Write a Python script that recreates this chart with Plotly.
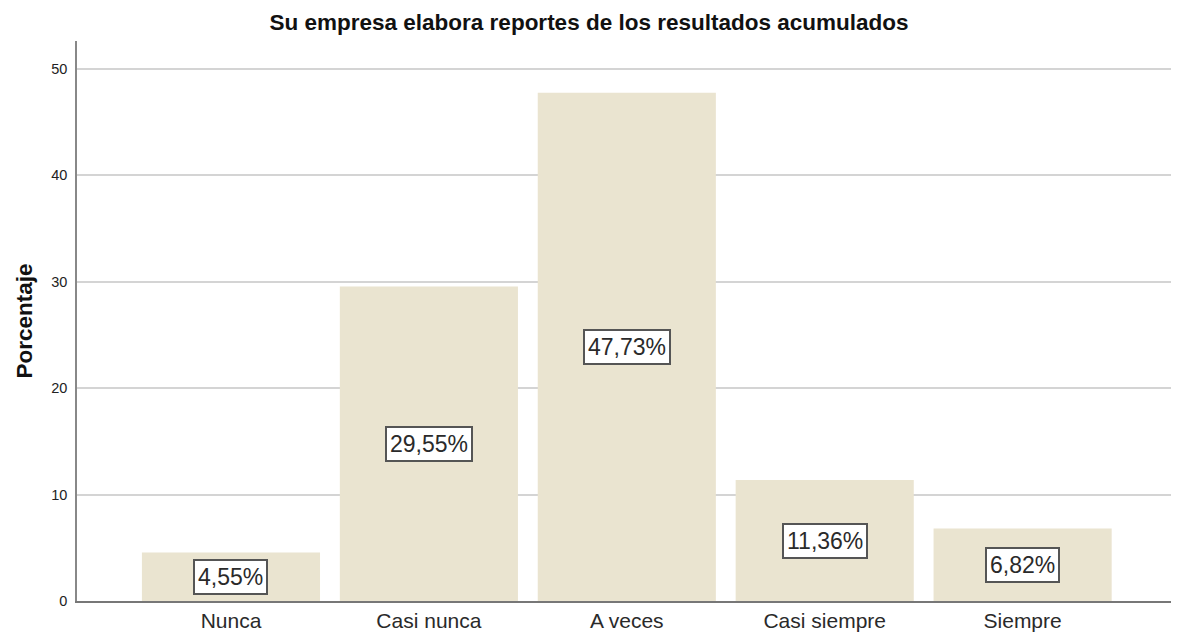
import plotly.graph_objects as go

categories = ["Nunca", "Casi nunca", "A veces", "Casi siempre", "Siempre"]
values = [4.55, 29.55, 47.73, 11.36, 6.82]
labels = ["4,55%", "29,55%", "47,73%", "11,36%", "6,82%"]
y_ticks = [0, 10, 20, 30, 40, 50]

FONT = "Liberation Sans, Arial, sans-serif"
xs = list(range(len(categories)))

fig = go.Figure()
fig.add_trace(go.Bar(
    x=xs, y=values, width=0.9,
    marker=dict(color="#EAE4D0", line=dict(width=0)),
    hoverinfo="skip",
))

for x, v, t in zip(xs, values, labels):
    fig.add_annotation(
        x=x, y=v / 2, text=t, showarrow=False,
        font=dict(family=FONT, size=23, color="#2a2a2a"),
        bgcolor="white", bordercolor="#555555", borderwidth=2, borderpad=3,
    )

# page body has an 8px default margin, so margins are compensated
fig.update_layout(
    width=1179, height=635,
    margin=dict(l=69, r=11, t=33, b=42, autoexpand=False),
    paper_bgcolor="white", plot_bgcolor="white",
    showlegend=False,
    title=dict(
        text="<b>Su empresa elabora reportes de los resultados acumulados</b>",
        x=0.4928, xanchor="center", y=0.978, yanchor="middle",
        font=dict(family=FONT, size=22.5, color="#111111"),
    ),
    bargap=0.1,
)

fig.update_xaxes(
    range=[-0.778, 4.775], automargin=False,
    tickmode="array", tickvals=xs, ticktext=categories,
    tickfont=dict(family=FONT, size=21, color="#2a2a2a"),
    showgrid=False, zeroline=False,
    showline=True, linecolor="#777777", linewidth=1.5,
    layer="below traces",
    ticks="", ticklen=0, ticklabelstandoff=0,
)
fig.update_yaxes(
    range=[0, 52.6], automargin=False,
    tickmode="array", tickvals=y_ticks,
    tickfont=dict(family=FONT, size=14.5, color="#222222"),
    showgrid=True, gridcolor="#D4D4D4", gridwidth=1.5,
    zeroline=False,
    showline=True, linecolor="#888888", linewidth=1.5,
    ticks="", ticklen=0, ticklabelstandoff=5,
    title=dict(text="<b>Porcentaje</b>", font=dict(family=FONT, size=22.5, color="#111111"), standoff=12),
)

fig.write_html("out.html")
